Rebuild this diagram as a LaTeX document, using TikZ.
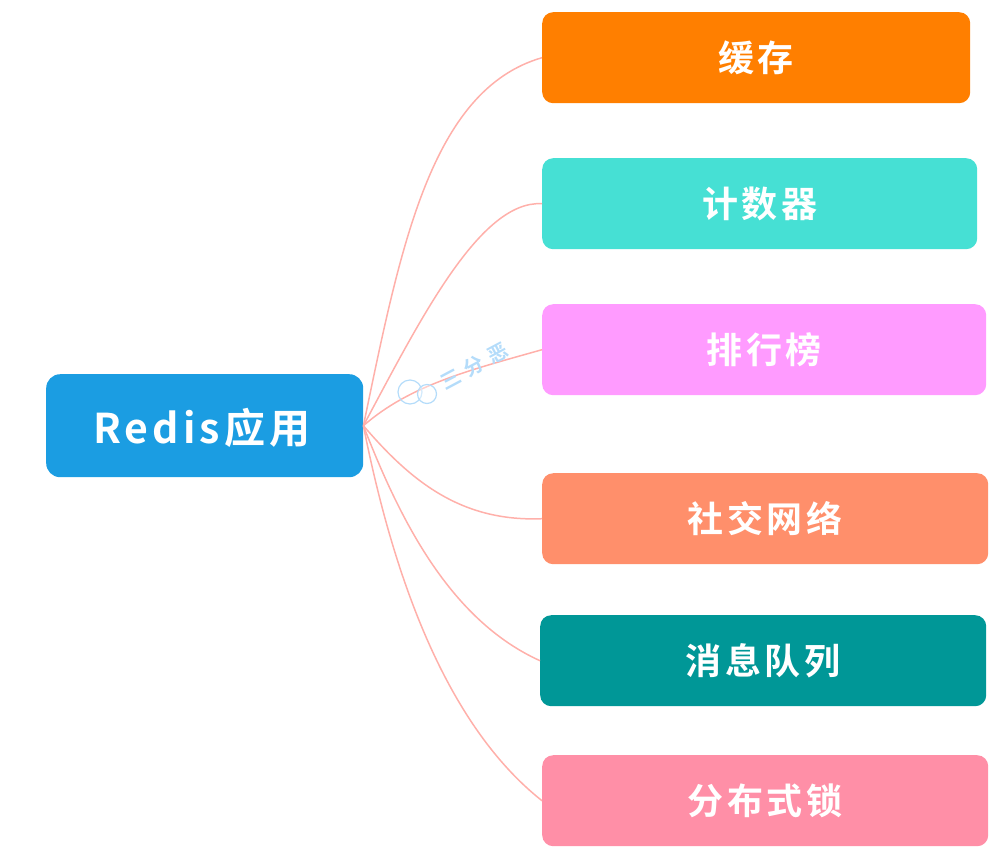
\documentclass[tikz,border=0pt]{standalone}
\usepackage{fontspec}
\setmainfont{Noto Sans CJK SC}[BoldFont={Noto Sans CJK SC Bold}]
\newfontfamily\spacedfont{Noto Sans CJK SC Bold}[LetterSpace=10]
\usetikzlibrary{positioning}
\definecolor{linkpink}{RGB}{255,176,170}
\definecolor{markblue}{RGB}{180,220,250}
\tikzset{
  appbox/.style={rounded corners=11pt,text=white,font=\spacedfont\fontsize{36pt}{36pt}\selectfont,inner sep=0pt,anchor=north west},
  link/.style={draw=linkpink,line width=1.5pt},
  bubble/.style={circle,draw=markblue,line width=1.2pt,inner sep=0pt},
  marktext/.style={text=markblue,rotate=28,font=\bfseries\fontsize{20pt}{20pt}\selectfont}
}
\begin{document}
\begin{tikzpicture}[x=1pt,y=-1pt]
  \useasboundingbox (0,0) rectangle (1008,865);
  \node[appbox,rounded corners=14pt,fill={rgb,255:red,27;green,157;blue,226},minimum width=317pt,minimum height=103pt,font=\spacedfont\fontsize{41pt}{41pt}\selectfont,text depth=0pt] (redis) at (46,374) {\hspace*{-6pt}Redis应用};
  \node[appbox,fill={rgb,255:red,255;green,127;blue,0},minimum width=428pt,minimum height=91pt] (cache) at (542,12) {缓存};
  \node[appbox,fill={rgb,255:red,70;green,224;blue,212},minimum width=435pt,minimum height=91pt] (counter) at (542,158) {计数器};
  \node[appbox,fill={rgb,255:red,255;green,155;blue,255},minimum width=444pt,minimum height=91pt] (rank) at (542,304) {排行榜};
  \node[appbox,fill={rgb,255:red,255;green,143;blue,107},minimum width=446pt,minimum height=91pt] (social) at (542,473) {社交网络};
  \node[appbox,fill={rgb,255:red,0;green,151;blue,151},minimum width=446pt,minimum height=91pt] (queue) at (540,615) {消息队列};
  \node[appbox,fill={rgb,255:red,255;green,143;blue,167},minimum width=446pt,minimum height=91pt] (lock) at (542,755) {分布式锁};
  % links from the centre box
  \draw[link] (redis.east) .. controls (400,250) and (430,90) .. (cache.west);
  \draw[link] (redis.east) .. controls (420,320) and (480,200) .. (counter.west);
  \draw[link] (redis.east) .. controls (410,385) and (470,370) .. (rank.west);
  \draw[link] (redis.east) .. controls (410,480) and (460,522) .. (social.west);
  \draw[link] (redis.east) .. controls (400,520) and (450,620) .. (queue.west);
  \draw[link] (redis.east) .. controls (390,560) and (440,720) .. (lock.west);
  % watermark
  \node[bubble,minimum size=24pt] (bubbleA) at (410,392) {};
  \node[bubble,minimum size=19pt,fill=white,fill opacity=0.4] (bubbleB) at (427,394) {};
  \node[marktext] (markA) at (451,379) {三};
  \node[marktext] (markB) at (474,366) {分};
  \node[marktext] (markC) at (498,353) {恶};
\end{tikzpicture}
\end{document}
